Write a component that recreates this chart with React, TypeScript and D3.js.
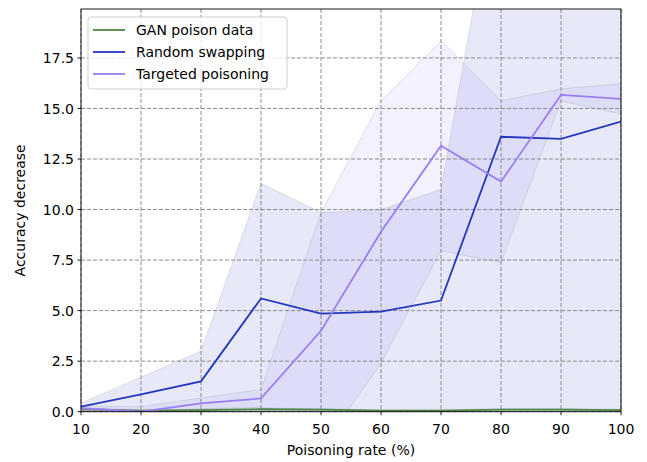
import * as d3 from "d3";

const RATES = [10, 20, 30, 40, 50, 60, 70, 80, 90, 100];

const GAN_MEAN = [0.12, 0.05, 0.08, 0.12, 0.1, 0.05, 0.05, 0.1, 0.1, 0.08];
const GAN_STD = [0.05, 0.04, 0.05, 0.06, 0.05, 0.04, 0.04, 0.05, 0.05, 0.04];

const SWAP_MEAN = [0.25, 0.86, 1.5, 5.6, 4.85, 4.95, 5.5, 13.6, 13.5, 14.35];
const SWAP_STD = [0.17, 0.85, 1.5, 5.7, 5.0, 5.05, 5.5, 14.0, 13.5, 14.3];

const TARGET_MEAN = [0.17, 0.0, 0.41, 0.66, 4.0, 8.9, 13.16, 11.38, 15.67, 15.47];
const TARGET_STD = [0.12, 0.25, 0.27, 0.44, 5.85, 6.5, 5.2, 4.0, 0.3, 0.75];

const Y_TICKS = [0, 2.5, 5, 7.5, 10, 12.5, 15, 17.5];
const X_TICKS = [10, 20, 30, 40, 50, 60, 70, 80, 90, 100];

const SERIES = [
  { label: "GAN poison data", color: "#4f8545", mean: GAN_MEAN, std: GAN_STD },
  { label: "Random swapping", color: "#2636bd", mean: SWAP_MEAN, std: SWAP_STD },
  { label: "Targeted poisoning", color: "#9a7ef2", mean: TARGET_MEAN, std: TARGET_STD },
];

const W = 647;
const H = 462;
const margin = { left: 81, right: 26, top: 9, bottom: 50.3 };
const font = "DejaVu Sans, sans-serif";

export default function App() {
  const x = d3.scaleLinear().domain([10, 100]).range([margin.left, W - margin.right]);
  const y = d3.scaleLinear().domain([0, 19.92]).range([H - margin.bottom, margin.top]);

  const area = (s: typeof SERIES[number]) =>
    d3
      .area<number>()
      .x((_, i) => x(RATES[i]))
      .y0((_, i) => y(s.mean[i] - s.std[i]))
      .y1((_, i) => y(s.mean[i] + s.std[i]))(s.mean) as string;

  const line = (s: typeof SERIES[number]) =>
    d3
      .line<number>()
      .x((_, i) => x(RATES[i]))
      .y((d) => y(d))(s.mean) as string;

  const [x0, x1] = x.range();
  const [yb, yt] = y.range();

  return (
    <svg
      width={W}
      height={H}
      style={{ position: "absolute", left: 0, top: 0, background: "#fff" }}
      fontFamily={font}
    >
      <defs>
        <clipPath id="plot">
          <rect x={x0} y={yt} width={x1 - x0} height={yb - yt} />
        </clipPath>
      </defs>

      {/* bands */}
      <g clipPath="url(#plot)">
        {SERIES.map((s) => (
          <path
            key={s.label}
            d={area(s)}
            fill={s.color}
            fillOpacity={0.11}
            stroke="#999"
            strokeOpacity={0.25}
            strokeWidth={1}
          />
        ))}
      </g>

      {/* grid */}
      <g stroke="#808080" strokeWidth={0.9} strokeDasharray="4,2">
        {X_TICKS.map((t) => (
          <line key={"gx" + t} x1={x(t)} x2={x(t)} y1={yt} y2={yb} />
        ))}
        {Y_TICKS.map((t) => (
          <line key={"gy" + t} x1={x0} x2={x1} y1={y(t)} y2={y(t)} />
        ))}
      </g>

      {/* lines */}
      <g clipPath="url(#plot)" fill="none" strokeWidth={1.8}>
        {SERIES.map((s) => (
          <path key={s.label} d={line(s)} stroke={s.color} />
        ))}
      </g>

      {/* frame */}
      <rect x={x0} y={yt} width={x1 - x0} height={yb - yt} fill="none" stroke="#000" strokeWidth={0.9} />

      {/* axes */}
      <g fontSize={14} fill="#000">
        {X_TICKS.map((t) => (
          <g key={"xt" + t}>
            <line x1={x(t)} x2={x(t)} y1={yb} y2={yb + 3.5} stroke="#000" strokeWidth={0.9} />
            <text x={x(t)} y={yb + 22} textAnchor="middle">
              {t}
            </text>
          </g>
        ))}
        {Y_TICKS.map((t) => (
          <g key={"yt" + t}>
            <line x1={x0 - 3.5} x2={x0} y1={y(t)} y2={y(t)} stroke="#000" strokeWidth={0.9} />
            <text x={x0 - 7} y={y(t)} dy="0.36em" textAnchor="end">
              {t.toFixed(1)}
            </text>
          </g>
        ))}
        <text x={(x0 + x1) / 2} y={455} textAnchor="middle">
          Poisoning rate (%)
        </text>
        <text transform={`translate(25,${(yt + yb) / 2}) rotate(-90)`} textAnchor="middle">
          Accuracy decrease
        </text>
      </g>

      {/* legend */}
      <g>
        <rect x={88} y={17} width={199} height={72} rx={3} fill="#fff" fillOpacity={0.8} stroke="#d0d0d0" />
        {SERIES.map((s, i) => (
          <g key={s.label} transform={`translate(0,${30 + i * 22})`}>
            <line x1={93} x2={125} y1={0} y2={0} stroke={s.color} strokeWidth={1.8} />
            <text x={136} y={0} dy="0.36em" fontSize={14} fill="#000">
              {s.label}
            </text>
          </g>
        ))}
      </g>
    </svg>
  );
}
